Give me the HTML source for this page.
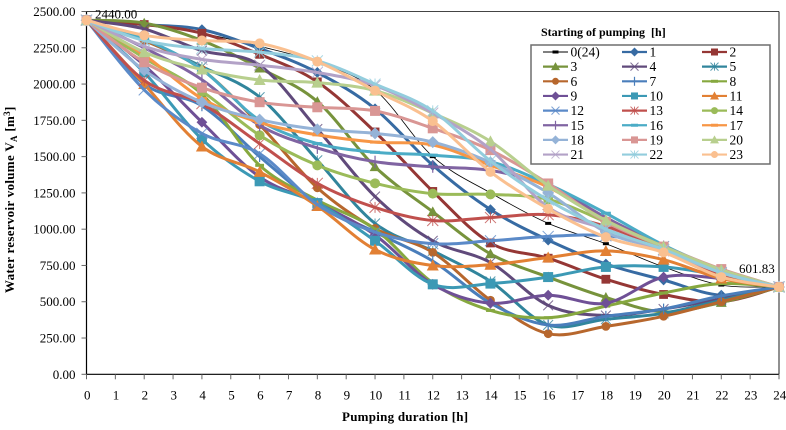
<!DOCTYPE html>
<html>
<head>
<meta charset="utf-8">
<title>Water reservoir volume chart</title>
<style>
html,body{margin:0;padding:0;background:#fff;}
svg{display:block;}
text{font-family:"Liberation Serif",serif;fill:#000;font-size:13px;}
.bold{font-weight:bold;}
</style>
</head>
<body>
<svg id="chart" xmlns="http://www.w3.org/2000/svg" width="786" height="430" viewBox="0 0 786 430">
  <rect x="0" y="0" width="786" height="430" fill="#fff"/>
  <g id="axes"></g>
  <g id="series"></g>
  <text x="95" y="18.5">2440.00</text>
  <text x="739" y="273">601.83</text>
  <text class="bold" x="342" y="421" style="letter-spacing:.25px">Pumping duration [h]</text>
  <text class="bold" transform="translate(14,293) rotate(-90)" style="letter-spacing:.3px">Water reservoir volume V<tspan font-size="9" dy="3">A</tspan><tspan dy="-3"> [m</tspan><tspan font-size="9" dy="-4">3</tspan><tspan dy="4">]</tspan></text>
  <text class="bold" x="541" y="36" style="font-size:12px">Starting of pumping&#160;&#160;[h]</text>
  <rect x="531" y="45" width="239" height="119" fill="#fff" stroke="#6e6e6e" stroke-width="1.5"/>
  <g id="legend"></g>
</svg>
<script>
// ---- chart data ----
const hours = [0,2,4,6,8,10,12,14,16,18,20,22,24];
const xTickLabels = [0,1,2,3,4,5,6,7,8,9,10,11,12,13,14,15,16,17,18,19,20,21,22,23,24];
const yTickLabels = [0,250,500,750,1000,1250,1500,1750,2000,2250,2500];
const seriesNames = ['0(24)','1','2','3','4','5','6','7','8','9','10','11','12','13','14','15','16','17','18','19','20','21','22','23'];
const s0  = [2440,2410,2350,2260,2150,1960,1500,1250,1040,900,740,615,602];
const s1  = [2440,2410,2375,2245,2080,1830,1440,1135,925,760,650,545,602];
const s2  = [2440,2410,2350,2205,2015,1670,1260,905,800,655,550,500,602];
const s3  = [2440,2420,2300,2110,1880,1430,1120,830,670,530,430,495,602];
const s4  = [2440,2380,2230,2130,1690,1225,920,770,475,405,450,520,602];
const s5  = [2440,2300,2120,1910,1475,1040,850,640,340,380,420,510,602];
const s6  = [2440,2300,2100,1720,1285,1005,840,510,280,330,400,500,602];
const s7  = [2440,2000,1850,1500,1180,980,780,490,340,400,450,540,602];
const s8  = [2440,2180,1930,1440,1200,1000,630,440,390,470,560,625,602];
const s9  = [2440,2130,1737,1360,1180,960,620,490,545,490,670,660,602];
const s10 = [2440,2080,1620,1330,1180,920,620,625,670,740,740,680,602];
const s11 = [2440,2000,1570,1395,1160,860,750,755,805,850,790,660,602];
const s12 = [2440,1960,1660,1520,1170,980,900,920,950,955,880,700,602];
const s13 = [2440,2025,1865,1590,1316,1150,1060,1080,1100,1020,860,690,602];
const s14 = [2440,2180,1950,1647,1440,1316,1245,1240,1205,1050,870,700,602];
const s15 = [2440,2250,2030,1716,1560,1465,1430,1405,1300,1080,880,700,602];
const s16 = [2440,2310,2100,1750,1590,1530,1510,1465,1310,1110,890,720,602];
const s17 = [2440,2200,1900,1735,1650,1600,1580,1440,1290,1060,880,700,602];
const s18 = [2440,2095,1875,1755,1688,1660,1600,1460,1250,980,860,720,602];
const s19 = [2440,2150,1975,1875,1840,1815,1695,1545,1315,1050,880,725,602];
const s20 = [2440,2220,2100,2028,2010,1955,1800,1605,1300,1060,880,720,602];
const s21 = [2440,2260,2170,2130,2080,1990,1800,1550,1150,1000,850,700,602];
const s22 = [2440,2300,2245,2220,2160,2000,1815,1470,1200,1000,860,700,602];
const s23 = [2440,2336,2300,2280,2155,1955,1745,1395,1140,945,840,670,602];
const allSeries = [s0,s1,s2,s3,s4,s5,s6,s7,s8,s9,s10,s11,s12,s13,s14,s15,s16,s17,s18,s19,s20,s21,s22,s23];

// ---- series appearance ----
const colors = ['#000000','#376ba3','#953735','#77933c','#604a7b','#31859c','#b7672d','#4a7ebb','#86a83f','#6f5096','#3c99b5','#e28034','#5b8ac8','#c0504d','#9bbb59','#8064a2','#4bacc6','#f79646','#95b3d7','#d99694','#b8cf8e','#b3a2c7','#93cddd','#fac090'];
const kinds = ['dash','diamond','square','triangle','x','star','circle','plus','dash','diamond','square','triangle','x','star','circle','plus','dash','dash','diamond','square','triangle','x','star','circle'];

// ---- scales ----
const NS = 'http://www.w3.org/2000/svg';
const X0 = 86.5, X1 = 779, Y0 = 374.3, Y1 = 11.5;
function xScale(h){ return X0 + (X1 - X0) * h / 24; }
function yScale(v){ return Y0 - (Y0 - Y1) * v / 2500; }
function mk(tag, attrs, parent){
  const el = document.createElementNS(NS, tag);
  for (const k in attrs) el.setAttribute(k, attrs[k]);
  parent.appendChild(el);
  return el;
}

// ---- axes ----
const axes = document.getElementById('axes');
const frameTop = mk('line', {x1:X0, y1:Y1, x2:X1, y2:Y1, stroke:'#444', 'stroke-width':1}, axes);


const frameRight = mk('line', {x1:X1, y1:Y1, x2:X1, y2:Y0, stroke:'#222', 'stroke-width':1}, axes);


const yAxisLine = mk('line', {x1:X0, y1:Y1, x2:X0, y2:Y0, stroke:'#000', 'stroke-width':1.2}, axes);


const xAxisLine = mk('line', {x1:X0, y1:Y0, x2:X1, y2:Y0, stroke:'#000', 'stroke-width':1.2}, axes);



yTickLabels.forEach(function(v){
  const y = yScale(v);
  const tick = mk('line', {x1:X0 - 5, y1:y, x2:X0, y2:y, stroke:'#666', 'stroke-width':1}, axes);
  
  
  const label = mk('text', {x:75.5, y:y + 4.5, 'text-anchor':'end'}, axes);
  
  
  label.textContent = v.toFixed(2);
});
xTickLabels.forEach(function(h){
  const x = xScale(h);
  const tick = mk('line', {x1:x, y1:Y0, x2:x, y2:Y0 + 5, stroke:'#666', 'stroke-width':1}, axes);
  
  
  const label = mk('text', {x:x + 0.7, y:399.5, 'text-anchor':'middle'}, axes);
  
  
  label.textContent = h;
});

// ---- helpers for marks ----
function smoothPath(pts){
  let d = 'M' + pts[0][0].toFixed(1) + ' ' + pts[0][1].toFixed(1);
  for (let i = 0; i < pts.length - 1; i++){
    const p0 = pts[Math.max(i - 1, 0)], p1 = pts[i], p2 = pts[i + 1], p3 = pts[Math.min(i + 2, pts.length - 1)];
    const c1x = p1[0] + (p2[0] - p0[0]) / 6, c1y = p1[1] + (p2[1] - p0[1]) / 6;
    const c2x = p2[0] - (p3[0] - p1[0]) / 6, c2y = p2[1] - (p3[1] - p1[1]) / 6;
    d += 'C' + c1x.toFixed(1) + ' ' + c1y.toFixed(1) + ' ' + c2x.toFixed(1) + ' ' + c2y.toFixed(1) + ' ' + p2[0].toFixed(1) + ' ' + p2[1].toFixed(1);
  }
  return d;
}
function drawMarker(parent, kind, x, y, color, r, idx){
  let el;
  if (kind === 'circle'){
    el = mk('circle', {cx:x, cy:y, r:r, fill:color}, parent);
  } else if (kind === 'square'){
    el = mk('rect', {x:x - r, y:y - r, width:2 * r, height:2 * r, fill:color}, parent);
  } else if (kind === 'diamond'){
    el = mk('polygon', {points:[x, y - r - 1, x + r + 1, y, x, y + r + 1, x - r - 1, y].join(' '), fill:color}, parent);
  } else if (kind === 'triangle'){
    el = mk('polygon', {points:[x, y - r - 1, x + r + 1, y + r, x - r - 1, y + r].join(' '), fill:color}, parent);
  } else if (kind === 'x'){
    const a = r + 0.5;
    el = mk('path', {d:'M' + (x - a) + ' ' + (y - a) + 'L' + (x + a) + ' ' + (y + a) + 'M' + (x - a) + ' ' + (y + a) + 'L' + (x + a) + ' ' + (y - a), stroke:color, 'stroke-width':1, fill:'none', opacity:0.8}, parent);
  } else if (kind === 'star'){
    const a = r + 0.5;
    el = mk('path', {d:'M' + (x - a) + ' ' + (y - a) + 'L' + (x + a) + ' ' + (y + a) + 'M' + (x - a) + ' ' + (y + a) + 'L' + (x + a) + ' ' + (y - a) + 'M' + x + ' ' + (y - a) + 'L' + x + ' ' + (y + a), stroke:color, 'stroke-width':1, fill:'none', opacity:0.8}, parent);
  } else if (kind === 'plus'){
    const a = r + 1;
    el = mk('path', {d:'M' + x + ' ' + (y - a) + 'L' + x + ' ' + (y + a), stroke:color, 'stroke-width':1.2, fill:'none'}, parent);
  } else {
    el = mk('rect', {x:x - r, y:y - 1.5, width:2 * r, height:3, fill:color}, parent);
  }
  
  
}

// ---- series ----
const seriesRoot = document.getElementById('series');
allSeries.forEach(function(vals, idx){
  const g = mk('g', {}, seriesRoot);
  
  
  const pts = vals.map(function(v, i){ return [xScale(hours[i]), yScale(v)]; });
  const line = mk('path', {d:smoothPath(pts), fill:'none', stroke:colors[idx], 'stroke-width':idx === 0 ? 0.8 : 3, 'stroke-linejoin':'round'}, g);
  
  
  const r = idx === 0 ? 3 : (idx < 10 ? 4.4 : 5);
  pts.forEach(function(p){ drawMarker(g, kinds[idx], p[0], p[1], colors[idx], r, idx); });
});

// ---- legend ----
const legend = document.getElementById('legend');
seriesNames.forEach(function(name, idx){
  const col = idx % 3, row = Math.floor(idx / 3);
  const lx = [543, 622, 702][col], ty = 52 + row * 14.65;
  const g = mk('g', {}, legend);
  
  
  const sw = mk('line', {x1:lx, y1:ty, x2:lx + 25, y2:ty, stroke:colors[idx], 'stroke-width':idx === 0 ? 1 : 2.2}, g);
  
  
  drawMarker(g, kinds[idx], lx + 12.5, ty, colors[idx], idx === 0 ? 3 : 3.5, idx);
  const t = mk('text', {x:lx + 27.5, y:ty + 4.5, style:'font-size:13.5px'}, g);
  
  
  t.textContent = name;
});
</script>
</body>
</html>
